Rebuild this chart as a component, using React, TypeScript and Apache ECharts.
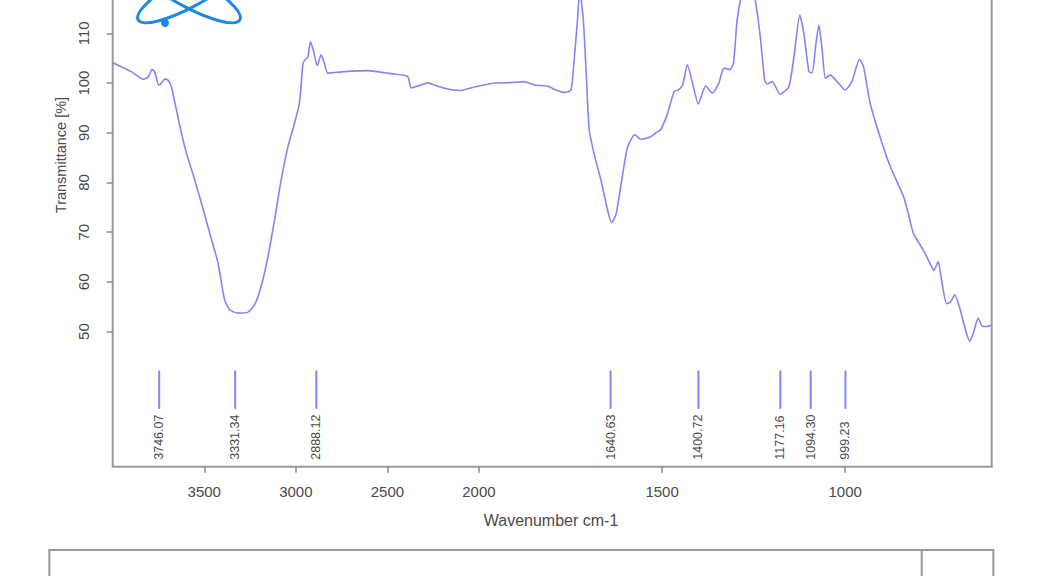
import React, { useEffect, useRef } from "react";
import * as echarts from "echarts";

// Spectrum (wavenumber cm-1, transmittance %)
const waveNumbers = [
  4000, 3898, 3834, 3807, 3785, 3771, 3749, 3734, 3716, 3698, 3680, 3652, 3625, 3598, 3552,
  3516, 3471, 3425, 3389, 3362, 3316, 3261, 3225, 3189, 3152, 3116, 3080, 3043, 3007, 2980,
  2961, 2949, 2934, 2920, 2905, 2883, 2862, 2844, 2825, 2735, 2607, 2480, 2389, 2371, 2344,
  2316, 2280, 2244, 2171, 2107, 2026, 1958, 1913, 1876, 1849, 1813, 1790, 1767, 1749, 1740,
  1731, 1725, 1715, 1708, 1699, 1686, 1667, 1649, 1638, 1626, 1613, 1596, 1585, 1574, 1558,
  1531, 1517, 1504, 1485, 1467, 1456, 1444, 1431, 1417, 1401, 1390, 1381, 1363, 1345, 1331,
  1315, 1305, 1295, 1280, 1265, 1250, 1240, 1231, 1220, 1213, 1199, 1178, 1154, 1140, 1124,
  1113, 1099, 1090, 1081, 1072, 1063, 1054, 1041, 1022, 1000, 982, 961, 950, 932, 905,
  877, 841, 828, 814, 787, 769, 758, 746, 737, 723, 712, 701, 687, 673, 660,
  650, 637, 625, 614, 600,
];
const transmittance = [
  104.1, 102.3, 100.8, 101.2, 102.7, 102.3, 99.6, 100.0, 100.8, 100.6, 99.3, 94.6, 90.0, 86.0, 80.5,
  75.9, 69.9, 63.8, 56.4, 54.4, 53.7, 53.9, 55.4, 59.1, 65.1, 72.5, 80.5, 87.2, 91.9, 96.0,
  104.0, 104.7, 105.3, 108.3, 106.7, 103.5, 105.7, 104.0, 102.0, 102.3, 102.5, 101.9, 101.3, 99.0, 99.3,
  99.6, 100.1, 99.6, 98.8, 98.5, 99.2, 100.0, 100.1, 100.3, 99.6, 99.4, 98.6, 98.1, 98.6, 104.7,
  112.7, 118.5, 112.7, 103.3, 90.6, 85.9, 80.5, 74.5, 71.9, 73.5, 79.2, 86.6, 88.6, 89.6, 88.7,
  89.2, 90.0, 90.6, 93.9, 98.3, 98.6, 99.6, 103.7, 100.0, 95.8, 98.0, 99.4, 98.0, 100.0, 103.0,
  102.7, 104.0, 112.7, 118.5, 121.0, 118.5, 114.0, 108.7, 100.6, 99.8, 100.3, 97.8, 99.2, 105.3, 113.7,
  110.0, 102.3, 102.1, 107.3, 111.7, 106.7, 101.0, 101.6, 100.3, 98.6, 100.3, 104.8, 103.3, 96.0, 89.2,
  83.2, 77.2, 73.8, 69.8, 66.4, 63.8, 62.3, 64.1, 60.4, 55.6, 56.0, 57.4, 54.7, 50.7, 48.0,
  49.7, 52.7, 51.0, 51.0, 51.3,
];

// Peak picks
const peakPositions = [3746.07, 3331.34, 2888.12, 1640.63, 1400.72, 1177.16, 1094.3, 999.23];

// Axis ticks
const xTickLabels = [3500, 3000, 2500, 2000, 1500, 1000];
const yTickLabels = [50, 60, 70, 80, 90, 100, 110];

// Split-scale transform (compressed above 2000 cm-1)
const toU = (w: number) => (w <= 2000 ? w : 2000 + (w - 2000) / 2);
const fromU = (u: number) => (u <= 2000 ? u : 2000 + (u - 2000) * 2);

const LINE_COLOR = "#8585f2";
const TEXT_COLOR = "#4a4a4a";
const FONT = "Liberation Sans, Arial, sans-serif";
const OFF = 100; // chart canvas is shifted up so the plot frame top is cut off

export default function App() {
  const ref = useRef<HTMLDivElement>(null);

  useEffect(() => {
    if (!ref.current) return;
    const chart = echarts.init(ref.current, null, { renderer: "svg" });

    const lineData = waveNumbers.map((w, i) => [toU(w), transmittance[i]]);
    const peakData = peakPositions.map((w) => [toU(w), w]);

    const option: any = {
      animation: false,
      backgroundColor: "#ffffff",
      grid: {
        left: 112.7,
        right: 46.3,
        top: OFF - 66,
        bottom: 109.3,
        show: true,
        borderColor: "#999999",
        borderWidth: 2,
        backgroundColor: "transparent",
      },
      xAxis: {
        type: "value",
        inverse: true,
        min: 600,
        max: 3000,
        axisLine: { show: false },
        splitLine: { show: false },
        axisTick: {
          show: true,
          length: 6,
          customValues: xTickLabels.map(toU),
          lineStyle: { color: "#888888", width: 1.5 },
        },
        axisLabel: {
          show: true,
          customValues: xTickLabels.map(toU),
          formatter: (v: number) => String(Math.round(fromU(v))),
          color: TEXT_COLOR,
          fontSize: 15,
          fontFamily: FONT,
          margin: 17,
        },
      },
      yAxis: {
        type: "value",
        min: 22.8,
        max: 130,
        axisLine: { show: false },
        splitLine: { show: false },
        axisTick: {
          show: true,
          length: 6,
          customValues: yTickLabels,
          lineStyle: { color: "#888888", width: 1.5 },
        },
        axisLabel: {
          show: true,
          customValues: yTickLabels,
          rotate: 90,
          color: TEXT_COLOR,
          fontSize: 15,
          fontFamily: FONT,
          margin: 22,
        },
      },
      series: [
        {
          type: "line",
          data: lineData,
          showSymbol: false,
          smooth: 0.2,
          lineStyle: { color: LINE_COLOR, width: 1.6 },
          z: 3,
        },
        {
          type: "custom",
          data: peakData,
          renderItem: (params: any, api: any) => {
            const u = api.value(0);
            const w = api.value(1);
            const p1 = api.coord([u, 42.15]);
            const p2 = api.coord([u, 34.45]);
            const p3 = api.coord([u, 24.2]);
            return {
              type: "group",
              children: [
                {
                  type: "line",
                  shape: { x1: p1[0], y1: p1[1], x2: p2[0], y2: p2[1] },
                  style: { stroke: LINE_COLOR, lineWidth: 2 },
                },
                {
                  type: "text",
                  x: p3[0],
                  y: p3[1],
                  rotation: Math.PI / 2,
                  style: {
                    text: Number(w).toFixed(2),
                    fill: TEXT_COLOR,
                    font: `12.5px ${FONT}`,
                    align: "left",
                    verticalAlign: "middle",
                  },
                },
              ],
            };
          },
          z: 4,
        },
      ],
      graphic: [
        {
          type: "text",
          x: 60.7,
          y: OFF + 155,
          rotation: Math.PI / 2,
          style: {
            text: "Transmittance [%]",
            fill: TEXT_COLOR,
            font: `14.5px ${FONT}`,
            align: "center",
            verticalAlign: "middle",
          },
        },
        {
          type: "text",
          x: 551,
          y: OFF + 520,
          style: {
            text: "Wavenumber cm-1",
            fill: TEXT_COLOR,
            font: `16px ${FONT}`,
            align: "center",
            verticalAlign: "middle",
          },
        },
        // atom logo
        {
          type: "ellipse",
          x: 189,
          y: OFF - 8,
          rotation: 0.5,
          shape: { cx: 0, cy: 0, rx: 58, ry: 15 },
          style: { fill: "none", stroke: "#1e88e5", lineWidth: 3 },
        },
        {
          type: "ellipse",
          x: 189,
          y: OFF - 8,
          rotation: -0.5,
          shape: { cx: 0, cy: 0, rx: 58, ry: 15 },
          style: { fill: "none", stroke: "#1e88e5", lineWidth: 3 },
        },
        {
          type: "circle",
          shape: { cx: 165, cy: OFF + 23, r: 4 },
          style: { fill: "#1e88e5" },
        },
        // bottom info box
        {
          type: "rect",
          shape: { x: 49.3, y: OFF + 550, width: 944, height: 60 },
          style: { fill: "none", stroke: "#999999", lineWidth: 2 },
        },
        {
          type: "line",
          shape: { x1: 921.7, y1: OFF + 550, x2: 921.7, y2: OFF + 580 },
          style: { stroke: "#999999", lineWidth: 2 },
        },
      ],
    };

    chart.setOption(option);
    return () => chart.dispose();
  }, []);

  return (
    <div
      ref={ref}
      style={{ position: "absolute", left: 0, top: -OFF, width: 1038, height: 576 + OFF }}
    />
  );
}
